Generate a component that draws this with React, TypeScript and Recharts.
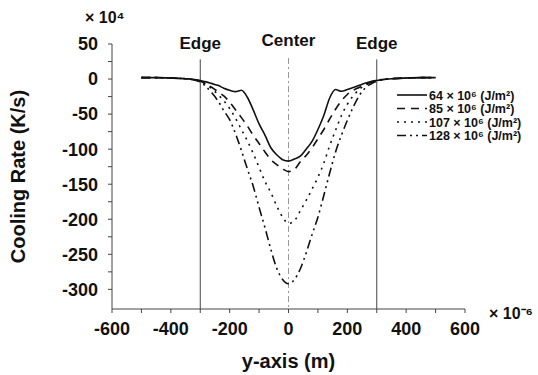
import { LineChart, Line, ReferenceLine, XAxis, YAxis } from 'recharts'

const FONT = '"Liberation Sans", Arial, sans-serif'

// y-axis position (×10^-6 m)
const positions = [
    -500, -450, -400, -350, -300, -280, -260, -240, -220, -200, -180, -160, -140, -120, -100, -80, -60, -40, -20, 0,
    20, 40, 60, 80, 100, 120, 140, 160, 180, 200, 220, 240, 260, 280, 300, 350, 400, 450, 500,
]

// cooling rate (×10^4 K/s)
const rate64 = [
    2, 2, 1.5, 0.5, -2, -4, -6.5, -9, -13, -16, -18, -16, -26, -44, -64, -80, -98, -108, -115, -117,
    -114, -110, -100, -89, -72, -52, -27, -15, -17.5, -15, -12, -9, -6, -3.5, -2, 0.5, 1.5, 2, 2,
]
const rate85 = [
    2, 2, 1.5, 0.5, -3, -7, -12, -18, -24, -33, -44, -55, -67, -80, -92, -104, -115, -122, -128, -132,
    -129, -118, -109, -98, -85, -72, -57, -43, -31, -22, -16, -12, -8, -5, -2, 0.5, 1.5, 2, 2,
]
const rate107 = [
    2, 2, 1.5, 0.5, -3, -8, -14, -22, -31, -42, -56, -72, -88, -106, -126, -146, -162, -181, -197, -206,
    -202, -188, -173, -157, -140, -120, -95, -73, -52, -36, -24, -15, -9, -5, -2, 0.5, 1.5, 2, 2,
]
const rate128 = [
    2, 2, 1.5, 0.5, -4, -11, -20, -31, -45, -58, -78, -102, -128, -153, -183, -212, -243, -270, -286, -292,
    -286, -271, -248, -222, -197, -166, -134, -104, -80, -59, -40, -24, -13, -7, -3, 0.5, 1.5, 2, 2,
]

const xTicks = [-600, -500, -400, -300, -200, -100, 0, 100, 200, 300, 400, 500, 600]
const yTicks = [50, 25, 0, -25, -50, -75, -100, -125, -150, -175, -200, -225, -250, -275, -300]

const series = [
    { key: 'r64', name: '64', dash: undefined as string | undefined },
    { key: 'r85', name: '85', dash: '8 6' },
    { key: 'r107', name: '107', dash: '2 5' },
    { key: 'r128', name: '128', dash: '9 4 2 4 2 4' },
]

const data = positions.map((x, i) => ({
    x,
    r64: rate64[i],
    r85: rate85[i],
    r107: rate107[i],
    r128: rate128[i],
}))

const tickStyle = { fontSize: 18, fontWeight: 700, fill: '#111', fontFamily: FONT }
const labelStyle = { fontSize: 12.5, fontWeight: 700, fill: '#111', fontFamily: FONT }

function LegendBox() {
    return (
        <svg width={143} height={60}>
            {series.map((s, i) => (
                <g key={s.key}>
                    <line
                        x1={3}
                        x2={33}
                        y1={9 + i * 13.5}
                        y2={9 + i * 13.5}
                        stroke="#111"
                        strokeWidth={1.6}
                        strokeDasharray={s.dash}
                    />
                    <text x={35} y={13.5 + i * 13.5} style={labelStyle}>
                        {s.name} × 10⁶ (J/m²)
                    </text>
                </g>
            ))}
        </svg>
    )
}

export default function App() {
    return (
        <div style={{ position: 'absolute', left: 0, top: 0, width: 538, height: 375, background: '#fff' }}>
            <LineChart width={538} height={375} data={data} margin={{ top: 44, right: 73, left: 0, bottom: 0 }}>
                <XAxis
                    dataKey="x"
                    type="number"
                    domain={[-600, 600]}
                    ticks={xTicks}
                    interval={0}
                    tickFormatter={(v) => (v % 200 === 0 ? String(v) : '')}
                    height={66}
                    tickSize={4}
                    tickMargin={9}
                    stroke="#444"
                    tick={tickStyle}
                    label={{ value: 'y-axis (m)', position: 'insideBottom', offset: 7, style: { ...tickStyle, fontSize: 20 } }}
                />
                <YAxis
                    type="number"
                    domain={[-328, 50]}
                    ticks={yTicks}
                    interval={0}
                    tickFormatter={(v) => (v % 50 === 0 ? String(v) : '')}
                    width={112}
                    tickSize={4}
                    tickMargin={10}
                    stroke="#444"
                    tick={tickStyle}
                    label={{
                        value: 'Cooling Rate (K/s)',
                        angle: -90,
                        position: 'insideLeft',
                        offset: 18,
                        style: { ...tickStyle, fontSize: 20, textAnchor: 'middle' },
                    }}
                />
                <ReferenceLine
                    segment={[{ x: -300, y: 28 }, { x: -300, y: -328 }]}
                    stroke="#444"
                    strokeWidth={1}
                    label={{ value: 'Edge', position: 'top', offset: 10, style: { ...tickStyle, fontSize: 17 } }}
                />
                <ReferenceLine
                    segment={[{ x: 300, y: 28 }, { x: 300, y: -328 }]}
                    stroke="#444"
                    strokeWidth={1}
                    label={{ value: 'Edge', position: 'top', offset: 10, style: { ...tickStyle, fontSize: 17 } }}
                />
                <ReferenceLine
                    segment={[{ x: 0, y: 30 }, { x: 0, y: -328 }]}
                    stroke="#999"
                    strokeWidth={1}
                    strokeDasharray="6 3 2 3"
                    label={{ value: 'Center', position: 'top', offset: 12, style: { ...tickStyle, fontSize: 17 } }}
                />
                {series.map((s) => (
                    <Line
                        key={s.key}
                        type="monotone"
                        dataKey={s.key}
                        name={s.name}
                        stroke="#111"
                        strokeWidth={1.6}
                        strokeDasharray={s.dash}
                        dot={false}
                        isAnimationActive={false}
                    />
                ))}
            </LineChart>
            <div style={{ position: 'absolute', left: 394, top: 86 }}>
                <LegendBox />
            </div>
            <div style={{ position: 'absolute', left: 85, top: 9, fontFamily: FONT, fontWeight: 700, fontSize: 16, color: '#111' }}>
                × 10⁴
            </div>
            <div style={{ position: 'absolute', left: 489, top: 302, fontFamily: FONT, fontWeight: 700, fontSize: 16, color: '#111' }}>
                × 10⁻⁶
            </div>
        </div>
    )
}
